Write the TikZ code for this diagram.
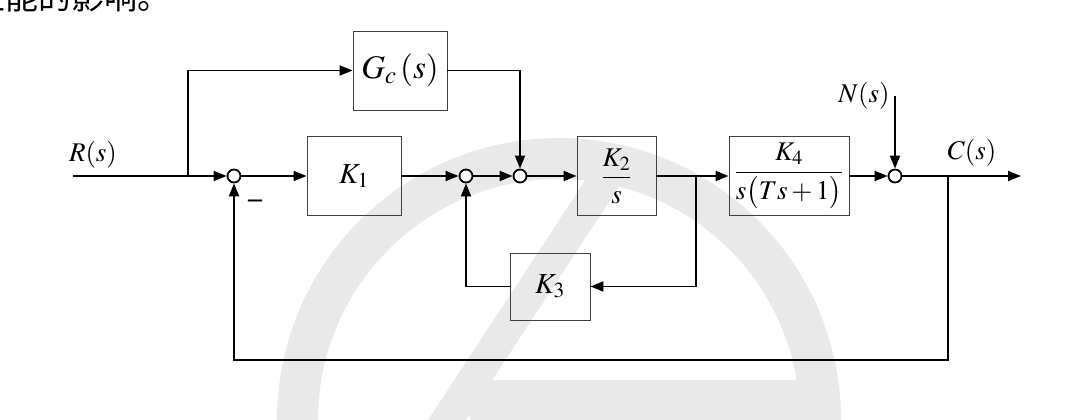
\documentclass[tikz,border=0pt]{standalone}
\usepackage{amsmath}
\usepackage{mathptmx}
\usepackage{fontspec}
\setmainfont{Liberation Serif}
\newfontfamily\cjk{Noto Sans CJK SC}
\usetikzlibrary{arrows.meta,positioning}
\definecolor{wmgray}{HTML}{E9E9E9}

\begin{document}
\begin{tikzpicture}[x=1pt, y=-1pt,
  blk/.style={rectangle, draw=black!75, line width=0.9pt, minimum height=79pt, inner sep=0pt, font=\fontsize{29}{32}\selectfont},
  sumc/.style={circle, draw, line width=1.8pt, minimum size=13pt, inner sep=0pt, fill=white},
  arr/.style={-{Triangle[length=13pt,width=10pt]}, line width=1.9pt},
  lbl/.style={inner sep=0pt, font=\fontsize{27}{30}\selectfont}
]
  \useasboundingbox (0,0) rectangle (1080,420);
  % watermark
  \begin{scope}
    \clip (0,0) rectangle (1080,420);
    \draw[wmgray, line width=41pt] (559,420) circle[radius=261.5pt];
    \fill[wmgray] (428,420) -- (466,420) -- (630,170) -- (592,170) -- cycle;
    \fill[wmgray] (470,380) rectangle (805,420);
  \end{scope}
  \node[anchor=base west, inner sep=0pt, font=\cjk\fontsize{33}{33}\selectfont] (txt) at (-28,9.5) {性能的影响。};

  % blocks
  \node[blk, minimum width=94pt, font=\fontsize{33}{36}\selectfont] (gc) at (400,70.5) {$G_c\,(s)$};
  \node[blk, minimum width=94pt] (k1) at (354,176) {$K_1$};
  \node[blk, minimum width=79pt, font=\fontsize{27}{30}\selectfont] (k2) at (616.5,176) {$\dfrac{K_2}{s}$};
  \node[blk, minimum width=120pt, font=\fontsize{27}{30}\selectfont] (k4) at (789,176) {$\dfrac{K_4}{s\big(Ts+1\big)}$};
  \node[blk, minimum width=80pt, minimum height=67pt] (k3) at (550,286.5) {$K_3$};

  % summing points
  \node[sumc] (s1) at (234,176) {};
  \node[sumc] (s2) at (466,176) {};
  \node[sumc] (s3) at (520,176) {};
  \node[sumc] (s4) at (895,176) {};

  \coordinate (in) at (73,176);
  \coordinate (b1) at (188,176);
  \coordinate (b2) at (696,176);
  \coordinate (b3) at (948,176);
  \coordinate (nin) at (895,96);
  \coordinate (out) at (1021,176);

  % labels
  \node[lbl] (rs) at (93,155) {$R(s)$};
  \node[lbl] (ns) at (864,96) {$N(s)$};
  \node[lbl] (cs) at (972,153) {$C(s)$};
  \node[lbl, font=\bfseries\fontsize{28}{28}\selectfont] (neg) at (255,204) {–};

  % connections
  \draw[arr] (in) -- (s1);
  \draw[arr] (b1) |- (gc.west);
  \draw[arr] (gc.east) -| (s3.north);
  \draw[arr] (s1) -- (k1);
  \draw[arr] (k1) -- (s2);
  \draw[arr] (s2) -- (s3);
  \draw[arr] (s3) -- (k2);
  \draw[arr] (k2) -- (k4);
  \draw[arr] (b2) |- (k3.east);
  \draw[arr] (k3.west) -| (s2.south);
  \draw[arr] (k4) -- (s4);
  \draw[arr] (nin) -- (s4.north);
  \draw[arr] (s4) -- (out);
  \draw[arr] (b3) -- ++(0,184) -| (s1.south);
\end{tikzpicture}
\end{document}
